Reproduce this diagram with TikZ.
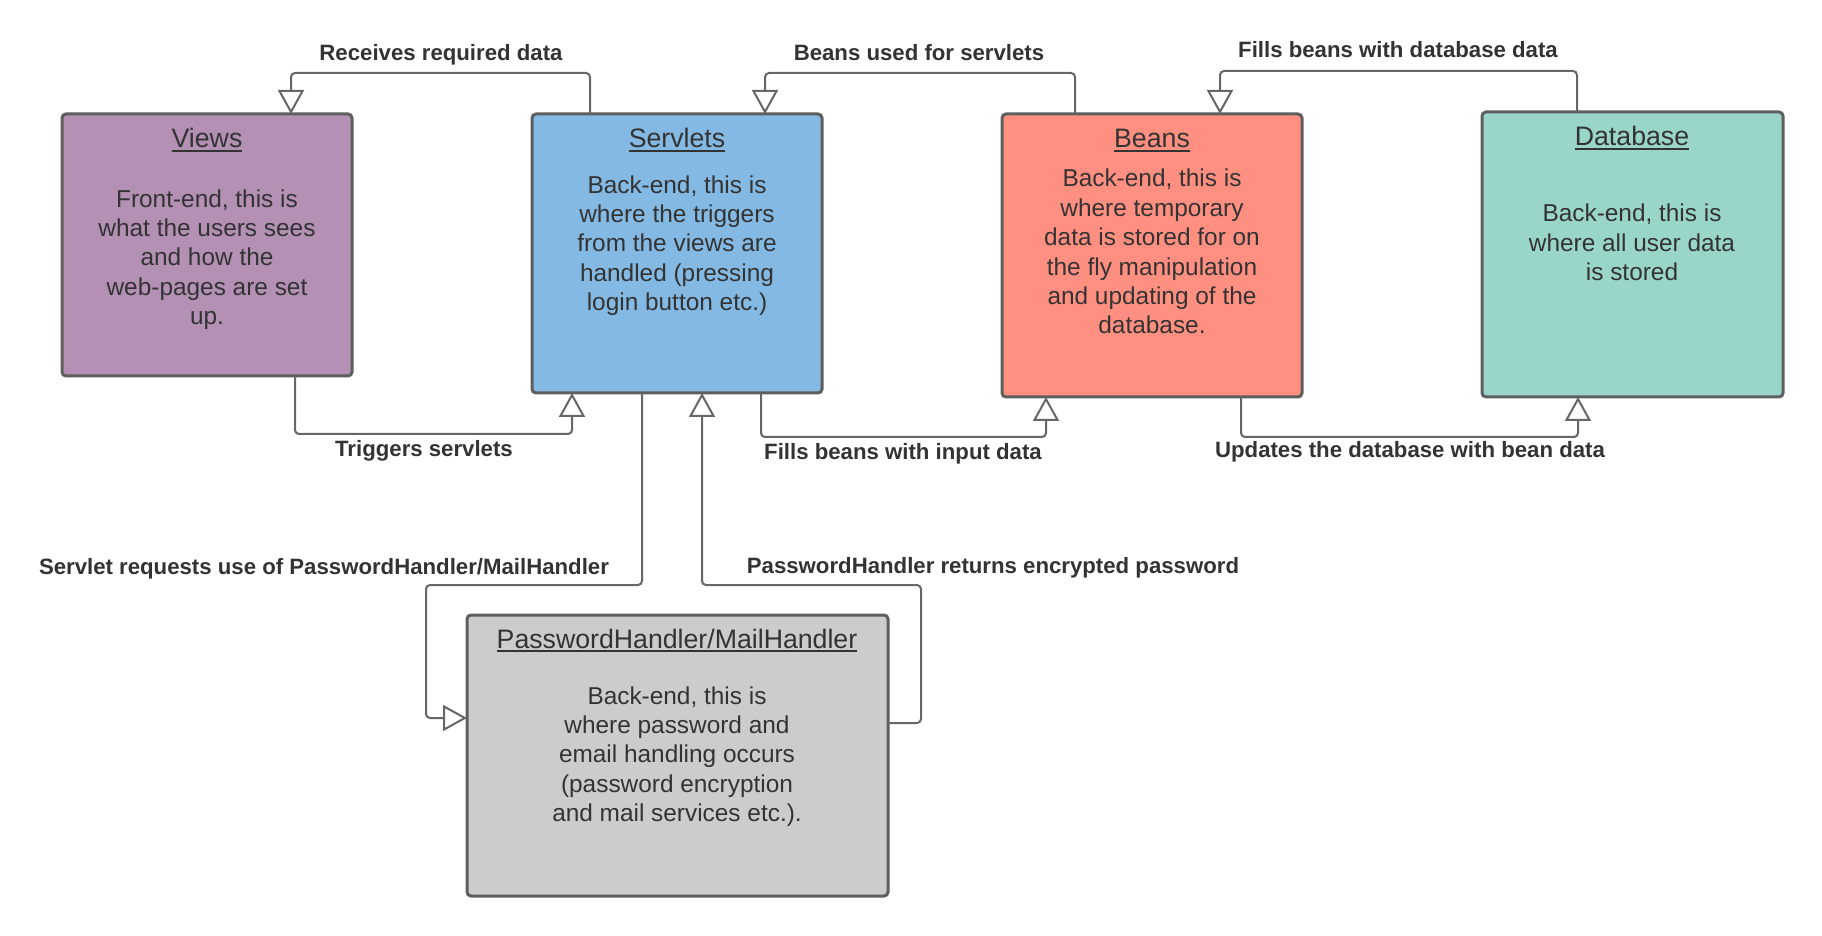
\documentclass[tikz,border=0pt]{standalone}
\usepackage{fontspec}
\setmainfont{Liberation Sans}
\usetikzlibrary{arrows.meta}
\definecolor{viewsc}{HTML}{B390B4}
\definecolor{servc}{HTML}{83B9E3}
\definecolor{beansc}{HTML}{FF8F80}
\definecolor{dbc}{HTML}{9AD5CA}
\definecolor{phc}{HTML}{CCCCCC}
\definecolor{bordc}{HTML}{5E5E5E}
\definecolor{linec}{HTML}{666666}
\definecolor{txtc}{HTML}{333333}
\newcommand\titleul[1]{\setbox0\hbox{#1}\rlap{\rule[-2pt]{\wd0}{0.9pt}}\box0}
\tikzset{
  box/.style={draw=bordc, line width=1.5pt, rounded corners=2pt, rectangle, anchor=north west, inner sep=0pt, outer sep=0pt},
  boxtitle/.style={anchor=base, inner sep=0pt, text=txtc, font=\fontsize{13.35pt}{16pt}\selectfont},
  boxbody/.style={anchor=base, inner sep=0pt, text=txtc, align=center, font=\fontsize{12.2pt}{14.7pt}\selectfont},
  lbl/.style={anchor=base, inner sep=0pt, text=txtc, font=\fontsize{11.1pt}{13pt}\selectfont\bfseries},
  conn/.style={draw=linec, line width=1pt, rounded corners=2pt, -{Triangle[length=12pt,width=13pt,fill=white,line width=1pt]}},
}
\begin{document}
\begin{tikzpicture}[x=0.5pt,y=-0.5pt]
\useasboundingbox (0,0) rectangle (1822,936);
% boxes
\node[box, fill=viewsc, minimum width=145pt, minimum height=131pt] (views) at (62,114) {};
\node[box, fill=servc, minimum width=145pt, minimum height=139.5pt] (servlets) at (532,114) {};
\node[box, fill=beansc, minimum width=150pt, minimum height=141.5pt] (beans) at (1002,114) {};
\node[box, fill=dbc, minimum width=150.5pt, minimum height=142.5pt] (db) at (1482,112) {};
\node[box, fill=phc, minimum width=210.5pt, minimum height=140.5pt] (ph) at (467,615) {};
% titles
\node[boxtitle] (viewsT) at (207,148) {\titleul{Views}};
\node[boxtitle] (servletsT) at (677,148) {\titleul{Servlets}};
\node[boxtitle] (beansT) at (1152,148) {\titleul{Beans}};
\node[boxtitle] (dbT) at (1632,146) {\titleul{Database}};
\node[boxtitle] (phT) at (677,648) {\titleul{PasswordHandler/MailHandler}};
% bodies (anchor = baseline of last line)
\node[boxbody] (viewsB) at (207,324.6) {Front-end, this is\\what the users sees\\and how the\\web-pages are set\\up.};
\node[boxbody] (servletsB) at (677,310.6) {Back-end, this is\\where the triggers\\from the views are\\handled (pressing\\login button etc.)};
\node[boxbody] (beansB) at (1152,334) {Back-end, this is\\where temporary\\data is stored for on\\the fly manipulation\\and updating of the\\database.};
\node[boxbody] (dbB) at (1632,280.8) {Back-end, this is\\where all user data\\is stored};
\node[boxbody] (phB) at (677,821.6) {Back-end, this is\\where password and\\email handling occurs\\(password encryption\\and mail services etc.).};
% connectors
\draw[conn] (590,0 |- servlets.north) -- (590,73) -- (291,73) -- (291,0 |- views.north);
\draw[conn] (1075,0 |- beans.north) -- (1075,73) -- (765,73) -- (765,0 |- servlets.north);
\draw[conn] (1577,0 |- db.north) -- (1577,71) -- (1220,71) -- (1220,0 |- beans.north);
\draw[conn] (295,0 |- views.south) -- (295,434) -- (572,434) -- (572,0 |- servlets.south);
\draw[conn] (761,0 |- servlets.south) -- (761,437) -- (1046,437) -- (1046,0 |- beans.south);
\draw[conn] (1241,0 |- beans.south) -- (1241,437) -- (1578,437) -- (1578,0 |- db.south);
\draw[conn] (642,0 |- servlets.south) -- (642,585) -- (426,585) -- (426,718) -- (0,718 -| ph.west);
\draw[conn] (0,723 -| ph.east) -- (921,723) -- (921,585) -- (702,585) -- (702,0 |- servlets.south);
% labels
\node[lbl] (l1) at (441,61) {Receives required data};
\node[lbl] (l2) at (919,61) {Beans used for servlets};
\node[lbl] (l3) at (1398,58) {Fills beans with database data};
\node[lbl] (l4) at (424,457) {Triggers servlets};
\node[lbl] (l5) at (903,459) {Fills beans with input data};
\node[lbl] (l6) at (1410,458) {Updates the database with bean data};
\node[lbl] (l7) at (324,574) {Servlet requests use of PasswordHandler/MailHandler};
\node[lbl] (l8) at (993,573) {PasswordHandler returns encrypted password};
\end{tikzpicture}
\end{document}
